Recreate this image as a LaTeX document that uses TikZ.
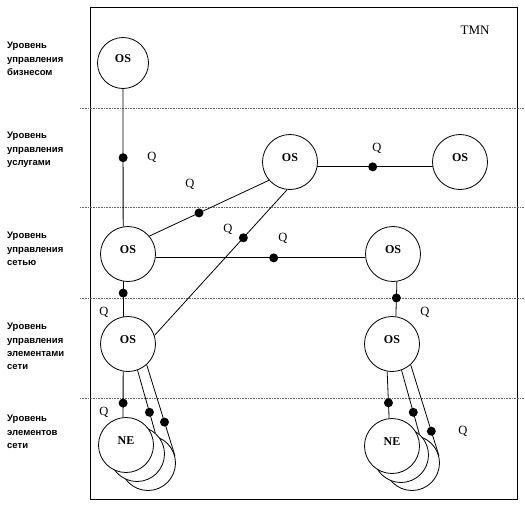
\documentclass[tikz,border=0pt]{standalone}
\usepackage{fontspec}
\setmainfont{Liberation Serif}
\setsansfont{Liberation Sans}
\usetikzlibrary{calc}
\pgfdeclarelayer{background}
\pgfdeclarelayer{main}
\pgfsetlayers{background,main}

\begin{document}
\begin{tikzpicture}[x=1pt, y=-1pt,
  os/.style={circle, draw, line width=0.8pt, fill=white, minimum size=55pt, inner sep=0pt,
    font=\bfseries\fontsize{12}{12}\selectfont, text height=8pt, text depth=10pt},
  dot/.style={circle, fill=black, inner sep=0pt, minimum size=9pt},
  link/.style={line width=0.8pt},
  qlbl/.style={font=\fontsize{12.5}{12.5}\selectfont},
  lvl/.style={anchor=north west, align=left, inner sep=0pt,
    font=\sffamily\bfseries\fontsize{9.5}{13.3}\selectfont},
  sepline/.style={densely dotted, black!60, line width=0.6pt}]

\useasboundingbox (0,0) rectangle (525,515);

\begin{pgfonlayer}{background}
\draw [line width=1pt] (90,7) rectangle (517,499);
\foreach \yy in {108,207,298,398}
  \draw [sepline] (80,\yy) -- (525,\yy);
\end{pgfonlayer}

% levels
\node [lvl] (lv1) at (7,42) {Уровень\\управления\\бизнесом};
\node [lvl] (lv2) at (7,132) {Уровень\\управления\\услугами};
\node [lvl] (lv3) at (7,232) {Уровень\\управления\\сетью};
\node [lvl] (lv4) at (7,323) {Уровень\\управления\\элементами\\сети};
\node [lvl] (lv5) at (7,415) {Уровень\\элементов\\сети};
\node [qlbl, font=\fontsize{13}{13}\selectfont] (tmn) at (475,30) {TMN};

% OS
\node [os, minimum size=51pt] (osb) at (123,63) {OS};
\node [os] (ossm) at (290,162) {OS};
\node [os] (osr) at (460,162) {OS};
\node [os] (osnl) at (128,254) {OS};
\node [os] (osnr) at (393,254) {OS};
\node [os] (osel) at (128,344) {OS};
\node [os] (oser) at (392,344) {OS};

% NE
\node [os] (nel3) at (148,463) {};
\node [os] (nel2) at (137,454) {};
\node [os] (nel1) at (126,445) {NE};
\node [os] (ner3) at (412,463) {};
\node [os] (ner2) at (401,455) {};
\node [os] (ner1) at (392,446) {NE};

\begin{pgfonlayer}{background}
\draw [link] (osb) -- node [dot, pos=.5] (d1) {} (osnl.100);
\draw [link] (osnl.40) -- node [dot, pos=.415] (d2) {} (ossm.-139);
\draw [link] (ossm.-96) -- node [dot, pos=.33] (d3) {} (osel.18);
\draw [link] (osnl.-8) -- node [dot, pos=.563] (d4) {} (osnr.188);
\draw [link] (ossm.-10) -- node [dot, pos=.48] (d5) {} (osr.190);
\draw [link] (osnl.-100) -- node [dot, pos=.33] (d6) {} (osel.100);
\draw [link] (osnr.-82) -- node [dot, pos=.47] (d7) {} (oser.82);
\draw [link] (osel.-100) -- node [dot, pos=.69] (d8) {} (nel1.96);
\draw [link] (osel.-70) -- node [dot, pos=.67] (d9) {} (nel2.49);
\draw [link] (osel.-48) -- node [dot, pos=.63] (d10) {} (nel3.15);
\draw [link] (oser.-100) -- node [dot, pos=.67] (d11) {} (ner1.96);
\draw [link] (oser.-70) -- node [dot, pos=.66] (d12) {} (ner2.49);
\draw [link] (oser.-48) -- node [dot, pos=.73] (d13) {} (ner3.15);
\end{pgfonlayer}

% Q
\node [qlbl] (q1) at (152,157) {Q};
\node [qlbl] (q2) at (190,184) {Q};
\node [qlbl] (q3) at (228,229) {Q};
\node [qlbl] (q4) at (377,148) {Q};
\node [qlbl] (q5) at (283,238) {Q};
\node [qlbl] (q6) at (104,312) {Q};
\node [qlbl] (q7) at (425,312) {Q};
\node [qlbl] (q8) at (104,412) {Q};
\node [qlbl] (q9) at (463,431) {Q};
\end{tikzpicture}
\end{document}
